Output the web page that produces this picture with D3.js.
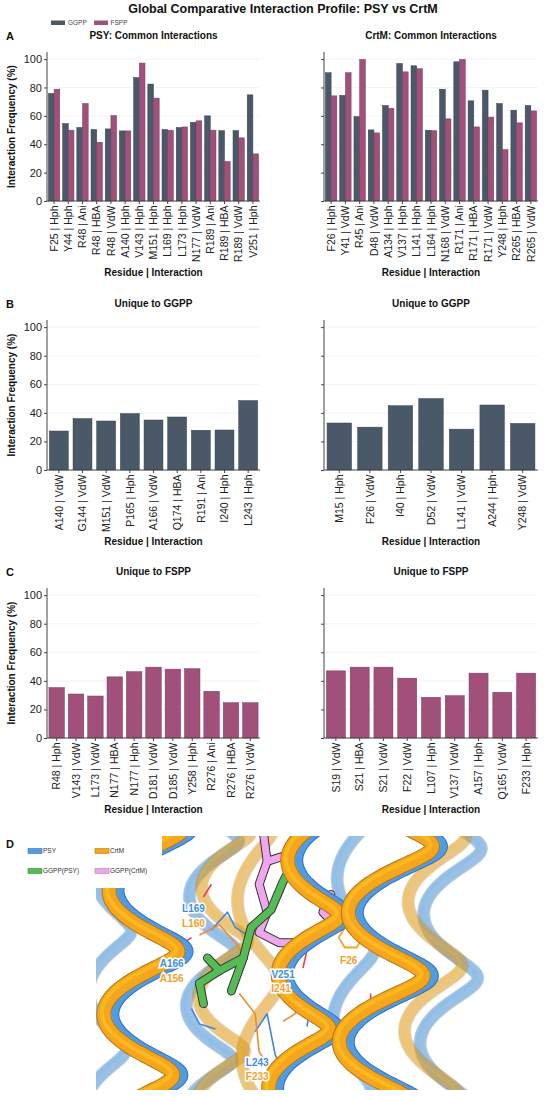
<!DOCTYPE html>
<html>
<head>
<meta charset="utf-8">
<script src="https://cdn.jsdelivr.net/npm/d3@7"></script>
<style>
  body { margin: 0; background: #fff; }
  svg { display: block; font-family: "Liberation Sans", Arial, sans-serif; }
  .axis path, .axis line { stroke: #444; }
  .axis text { fill: #222; font-size: 11px; }
  .xaxis text { font-size: 10.5px; }
</style>
</head>
<body>
<svg id="chart" width="550" height="1096"></svg>
<script>
// ---- data ----
const seriesNames = ["GGPP", "FSPP"];
const seriesColors = ["#4a5868", "#a1507a"];

const psyCommonLabels = ["F25 | Hph", "Y44 | Hph", "R48 | Ani", "R48 | HBA", "R48 | VdW", "A140 | Hph", "V143 | Hph",
  "M151 | Hph", "L169 | Hph", "L173 | Hph", "N177 | VdW", "R189 | Ani", "R189 | HBA", "R189 | VdW", "V251 | Hph"];
const psyCommonGGPP = [75.8, 54.6, 51.8, 50.4, 50.8, 49.4, 87.0, 82.4, 50.4, 51.8, 55.5, 60.0, 49.6, 49.6, 74.8];
const psyCommonFSPP = [78.8, 49.9, 68.7, 41.4, 60.2, 49.4, 97.2, 72.5, 49.9, 52.2, 56.5, 49.9, 27.8, 44.5, 33.2];

const crtmCommonLabels = ["F26 | Hph", "Y41 | VdW", "R45 | Ani", "D48 | VdW", "A134 | Hph", "V137 | Hph", "L141 | Hph",
  "L164 | Hph", "N168 | VdW", "R171 | Ani", "R171 | HBA", "R171 | VdW", "Y248 | Hph", "R265 | HBA", "R265 | VdW"];
const crtmCommonGGPP = [90.4, 74.4, 59.5, 50.1, 67.3, 96.9, 95.3, 49.9, 78.8, 98.1, 70.6, 78.1, 68.7, 64.0, 67.3];
const crtmCommonFSPP = [74.1, 90.4, 99.8, 48.0, 65.4, 91.0, 93.2, 49.6, 57.9, 99.8, 52.2, 59.1, 36.2, 55.1, 63.5];

const psyGgppOnlyLabels = ["A140 | VdW", "G144 | VdW", "M151 | VdW", "P165 | Hph", "A166 | VdW", "Q174 | HBA",
  "R191 | Ani", "I240 | Hph", "L243 | Hph"];
const psyGgppOnlyValues = [27.3, 36.0, 34.3, 39.5, 35.0, 37.1, 27.8, 28.0, 48.6];

const crtmGgppOnlyLabels = ["M15 | Hph", "F26 | VdW", "I40 | Hph", "D52 | VdW", "L141 | VdW", "A244 | Hph", "Y248 | VdW"];
const crtmGgppOnlyValues = [32.9, 30.0, 45.0, 50.0, 28.6, 45.5, 32.6];

const psyFsppOnlyLabels = ["R48 | Hph", "V143 | VdW", "L173 | VdW", "N177 | HBA", "N177 | Hph", "D181 | VdW",
  "D185 | VdW", "Y258 | Hph", "R276 | Ani", "R276 | HBA", "R276 | VdW"];
const psyFsppOnlyValues = [35.3, 30.8, 29.4, 42.8, 46.4, 49.6, 48.2, 48.5, 32.7, 24.7, 24.7];

const crtmFsppOnlyLabels = ["S19 | VdW", "S21 | HBA", "S21 | VdW", "F22 | VdW", "L107 | Hph", "V137 | VdW",
  "A157 | Hph", "Q165 | VdW", "F233 | Hph"];
const crtmFsppOnlyValues = [47.0, 49.6, 49.6, 41.9, 28.5, 29.6, 45.4, 32.0, 45.4];

const yTicks = [0, 20, 40, 60, 80, 100];

// ---- layout ----
const svg = d3.select("#chart");
const cols = [{ x0: 47, x1: 260 }, { x0: 324, x1: 538 }];
const rows = [
  { letter: "A", top: 52, bottom: 201 },
  { letter: "B", top: 320, bottom: 470 },
  { letter: "C", top: 588, bottom: 738 }
];

svg.append("text")
  .attr("x", 283).attr("y", 13)
  .attr("text-anchor", "middle")
  .attr("font-size", "12.5px").attr("font-weight", "bold").attr("fill", "#111")
  .text("Global Comparative Interaction Profile: PSY vs CrtM");

// legend for A
const legA = svg.append("g");
[[51, 68], [94, 110.5]].forEach((p, i) => {
  legA.append("rect").attr("x", p[0]).attr("y", 20.5).attr("width", 14).attr("height", 4.5)
    .attr("fill", seriesColors[i]);
  legA.append("text").attr("x", p[1]).attr("y", 25).attr("font-size", "6.5px").attr("fill", "#444")
    .text(seriesNames[i]);
});

function drawPanel(row, col, title, labels, series, showYLabels) {
  const g = svg.append("g");
  const y = d3.scaleLinear().domain([0, 105]).range([row.bottom, row.top]);
  const x = d3.scaleBand().domain(labels).range([col.x0, col.x1]).paddingInner(0.2).paddingOuter(0.1);
  const xs = d3.scaleBand().domain(d3.range(series.length)).range([0, x.bandwidth()]).padding(0);

  // faint grid
  g.selectAll(".grid").data(yTicks.slice(1)).enter().append("line")
    .attr("x1", col.x0).attr("x2", col.x1)
    .attr("y1", d => y(d)).attr("y2", d => y(d))
    .attr("stroke", "#f1f1f1").attr("stroke-width", 0.8);

  series.forEach((s, si) => {
    g.selectAll(".bar" + si).data(s.values).enter().append("rect")
      .attr("x", (d, i) => x(labels[i]) + xs(si))
      .attr("y", d => y(d))
      .attr("width", xs.bandwidth())
      .attr("height", d => y(0) - y(d))
      .attr("fill", s.color)
      .attr("stroke", d3.color(s.color).darker(0.8))
      .attr("stroke-width", 0.5);
  });

  const yAxis = d3.axisLeft(y).tickValues(yTicks).tickSize(3).tickPadding(2);
  if (!showYLabels) yAxis.tickFormat("");
  const ya = g.append("g").attr("class", "axis").attr("transform", `translate(${col.x0},0)`).call(yAxis);
  ya.select(".domain").attr("d", `M0,${row.top}V${row.bottom}`);

  const xAxis = d3.axisBottom(x).tickSize(3).tickPadding(3);
  const xa = g.append("g").attr("class", "axis xaxis").attr("transform", `translate(0,${row.bottom})`).call(xAxis);
  xa.select(".domain").attr("d", `M${col.x0},0H${col.x1}`);
  xa.selectAll("text")
    .attr("transform", "rotate(-90)")
    .attr("text-anchor", "end")
    .attr("x", -4.5).attr("y", 0).attr("dy", "0.35em");

  g.append("text")
    .attr("x", (col.x0 + col.x1) / 2).attr("y", row.top - 13)
    .attr("text-anchor", "middle").attr("font-size", "10px").attr("font-weight", "bold").attr("fill", "#111")
    .text(title);

  g.append("text")
    .attr("x", (col.x0 + col.x1) / 2).attr("y", row.bottom + 75)
    .attr("text-anchor", "middle").attr("font-size", "10px").attr("font-weight", "bold").attr("fill", "#111")
    .text("Residue | Interaction");

  if (showYLabels) {
    g.append("text")
      .attr("transform", `translate(15,${(row.top + row.bottom) / 2}) rotate(-90)`)
      .attr("text-anchor", "middle").attr("font-size", "10px").attr("font-weight", "bold").attr("fill", "#111")
      .text("Interaction Frequency (%)");
    g.append("text")
      .attr("x", 6).attr("y", row.top - 12)
      .attr("font-size", "11px").attr("font-weight", "bold").attr("fill", "#111")
      .text(row.letter);
  }
}

const pair = (a, b) => [{ values: a, color: seriesColors[0] }, { values: b, color: seriesColors[1] }];
drawPanel(rows[0], cols[0], "PSY: Common Interactions", psyCommonLabels, pair(psyCommonGGPP, psyCommonFSPP), true);
drawPanel(rows[0], cols[1], "CrtM: Common Interactions", crtmCommonLabels, pair(crtmCommonGGPP, crtmCommonFSPP), false);
drawPanel(rows[1], cols[0], "Unique to GGPP", psyGgppOnlyLabels, [{ values: psyGgppOnlyValues, color: seriesColors[0] }], true);
drawPanel(rows[1], cols[1], "Unique to GGPP", crtmGgppOnlyLabels, [{ values: crtmGgppOnlyValues, color: seriesColors[0] }], false);
drawPanel(rows[2], cols[0], "Unique to FSPP", psyFsppOnlyLabels, [{ values: psyFsppOnlyValues, color: seriesColors[1] }], true);
drawPanel(rows[2], cols[1], "Unique to FSPP", crtmFsppOnlyLabels, [{ values: crtmFsppOnlyValues, color: seriesColors[1] }], false);

// ---- panel D: structural overlay sketch ----
const structColors = { PSY: "#4f9be6", CrtM: "#f5a61c", GGPPpsy: "#55bb55", GGPPcrtm: "#f0a6ee" };
const sx = d3.scaleLinear().domain([0, 1]).range([96, 494]);
const sy = d3.scaleLinear().domain([0, 1]).range([836, 1090]);

svg.append("defs").append("clipPath").attr("id", "structClip")
  .append("rect").attr("x", sx(0)).attr("y", sy(0)).attr("width", sx(1) - sx(0)).attr("height", sy(1) - sy(0));
const D = svg.append("g").attr("clip-path", "url(#structClip)");

// helix axes in panel units
const backHelices = [
  { x0: 0.30, x1: 0.28, r: 0.06, turns: 2.6, phase: 0.4, c: "PSY" },
  { x0: 0.33, x1: 0.31, r: 0.06, turns: 2.6, phase: 0.9, c: "CrtM" },
  { x0: 0.90, x1: 0.88, r: 0.07, turns: 2.2, phase: 0.2, c: "PSY" },
  { x0: 0.86, x1: 0.84, r: 0.07, turns: 2.2, phase: 0.8, c: "CrtM" },
  { x0: 0.05, x1: 0.02, r: 0.05, turns: 2.4, phase: 2.0, c: "PSY" },
  { x0: 0.40, x1: 0.42, r: 0.05, turns: 1.8, phase: 1.5, c: "CrtM" },
  { x0: 0.66, x1: 0.64, r: 0.05, turns: 2.0, phase: 2.2, c: "PSY" }
];
const frontHelices = [
  { x0: 0.15, x1: 0.12, r: 0.09, turns: 2.3, phase: 1.2, c: "PSY" },
  { x0: 0.13, x1: 0.10, r: 0.09, turns: 2.3, phase: 1.2, c: "CrtM" },
  { x0: 0.58, x1: 0.52, r: 0.07, turns: 2.5, phase: 2.6, c: "PSY" },
  { x0: 0.56, x1: 0.50, r: 0.07, turns: 2.5, phase: 2.6, c: "CrtM" },
  { x0: 0.77, x1: 0.72, r: 0.10, turns: 2.2, phase: 0.3, c: "PSY" },
  { x0: 0.75, x1: 0.70, r: 0.10, turns: 2.2, phase: 0.3, c: "CrtM" }
];
const helixLine = d3.line().x(d => sx(d[0])).y(d => sy(d[1])).curve(d3.curveCatmullRom);
function helixPoints(h) {
  return d3.range(0, 1.0001, 1 / 90).map(t => {
    const a = 2 * Math.PI * h.turns * t + h.phase;
    return [h.x0 + (h.x1 - h.x0) * t + h.r * Math.sin(a), -0.06 + 1.12 * t + 0.03 * Math.cos(a)];
  });
}
function drawTube(pts, color, width, opacity) {
  D.append("path").attr("d", helixLine(pts)).attr("fill", "none")
    .attr("stroke", d3.color(color).darker(0.9)).attr("stroke-width", width + 2)
    .attr("stroke-linecap", "round").attr("stroke-linejoin", "round").attr("opacity", opacity);
  D.append("path").attr("d", helixLine(pts)).attr("fill", "none")
    .attr("stroke", color).attr("stroke-width", width)
    .attr("stroke-linecap", "round").attr("stroke-linejoin", "round").attr("opacity", opacity);
  D.append("path").attr("d", helixLine(pts)).attr("fill", "none")
    .attr("stroke", d3.color(color).brighter(0.5)).attr("stroke-width", width * 0.3)
    .attr("stroke-linecap", "round").attr("opacity", opacity * 0.6)
    .attr("transform", "translate(-2,-2)");
}
backHelices.forEach(h => drawTube(helixPoints(h), structColors[h.c], 11, 0.32));

// thin residue sticks
const sticks = [
  { c: "#3f86dc", pts: [[0.29, 0.37], [0.33, 0.30], [0.35, 0.36], [0.38, 0.39]] },
  { c: "#f08a30", pts: [[0.26, 0.39], [0.31, 0.35], [0.35, 0.42], [0.37, 0.47]] },
  { c: "#e8424a", pts: [[0.27, 0.24], [0.29, 0.19]] },
  { c: "#e8424a", pts: [[0.21, 0.43], [0.24, 0.40]] },
  { c: "#3f86dc", pts: [[0.40, 0.77], [0.43, 0.70], [0.45, 0.86], [0.47, 0.93]] },
  { c: "#f08a30", pts: [[0.36, 0.62], [0.40, 0.70], [0.41, 0.85], [0.44, 0.92]] },
  { c: "#f08a30", pts: [[0.47, 0.58], [0.51, 0.63], [0.50, 0.70], [0.47, 0.73]] },
  { c: "#3f86dc", pts: [[0.50, 0.60], [0.54, 0.66], [0.53, 0.75]] },
  { c: "#e8424a", pts: [[0.52, 0.52], [0.53, 0.45]] },
  { c: "#e8424a", pts: [[0.69, 0.62], [0.69, 0.70]] },
  { c: "#3f86dc", pts: [[0.24, 0.68], [0.26, 0.74], [0.30, 0.76]] }
];
const stickLine = d3.line().x(d => sx(d[0])).y(d => sy(d[1]));
sticks.forEach(s => D.append("path").attr("d", stickLine(s.pts)).attr("fill", "none")
  .attr("stroke", s.c).attr("stroke-width", 1.6).attr("stroke-linejoin", "round"));

// F26 phenyl ring
const ring = d3.range(7).map(k => [0.64 + 0.03 * Math.cos(k * Math.PI / 3), 0.40 + 0.045 * Math.sin(k * Math.PI / 3)]);
D.append("path").attr("d", stickLine(ring)).attr("fill", "none").attr("stroke", structColors.CrtM).attr("stroke-width", 1.8);

// ligands
const ggppPsy = [[0.52, -0.02], [0.49, 0.12], [0.47, 0.18], [0.44, 0.29], [0.39, 0.36], [0.37, 0.48], [0.31, 0.53], [0.26, 0.58]];
const ggppPsyBranches = [[[0.37, 0.48], [0.34, 0.61]], [[0.31, 0.53], [0.28, 0.48]], [[0.26, 0.58], [0.27, 0.66]]];
const ggppCrtm = [[0.42, -0.02], [0.43, 0.10], [0.41, 0.19], [0.43, 0.30], [0.41, 0.38], [0.46, 0.42], [0.51, 0.42]];
const ggppCrtmBranches = [[[0.59, 0.23], [0.57, 0.30], [0.60, 0.35]], [[0.43, 0.10], [0.47, 0.08]]];
function drawLigand(chain, branches, color) {
  [chain].concat(branches).forEach(p => {
    D.append("path").attr("d", stickLine(p)).attr("fill", "none").attr("stroke", "#333")
      .attr("stroke-width", 9).attr("stroke-linecap", "round").attr("stroke-linejoin", "round");
  });
  [chain].concat(branches).forEach(p => {
    D.append("path").attr("d", stickLine(p)).attr("fill", "none").attr("stroke", color)
      .attr("stroke-width", 7).attr("stroke-linecap", "round").attr("stroke-linejoin", "round");
  });
}
drawLigand(ggppCrtm, ggppCrtmBranches, structColors.GGPPcrtm);
drawLigand(ggppPsy, ggppPsyBranches, structColors.GGPPpsy);

frontHelices.forEach(h => drawTube(helixPoints(h), structColors[h.c], 13, 1));

// residue labels
const resLabels = [
  { t: "L169", x: 0.245, y: 0.285, c: "#3d8fe3" }, { t: "L160", x: 0.245, y: 0.345, c: "#f2a02a" },
  { t: "A166", x: 0.19, y: 0.50, c: "#3d8fe3" }, { t: "A156", x: 0.19, y: 0.56, c: "#f2a02a" },
  { t: "L243", x: 0.405, y: 0.89, c: "#3d8fe3" }, { t: "F233", x: 0.405, y: 0.945, c: "#f2a02a" },
  { t: "V251", x: 0.47, y: 0.545, c: "#3d8fe3" }, { t: "I241", x: 0.465, y: 0.60, c: "#f2a02a" },
  { t: "F26", x: 0.635, y: 0.49, c: "#f2a02a" }
];
svg.selectAll(".reslabel").data(resLabels).enter().append("text")
  .attr("x", d => sx(d.x)).attr("y", d => sy(d.y)).attr("dy", "0.35em")
  .attr("text-anchor", "middle").attr("font-size", "10px").attr("font-weight", "bold")
  .attr("fill", d => d.c).attr("stroke", "#fff").attr("stroke-width", 3).attr("paint-order", "stroke")
  .text(d => d.t);

// legend for D
svg.append("rect").attr("x", 0).attr("y", 836).attr("width", 162).attr("height", 52).attr("fill", "#fff");
svg.append("text").attr("x", 6).attr("y", 848).attr("font-size", "11px").attr("font-weight", "bold").attr("fill", "#111").text("D");
const legD = [
  { t: "PSY", c: structColors.PSY, x: 28, y: 851 }, { t: "CrtM", c: structColors.CrtM, x: 95, y: 851 },
  { t: "GGPP(PSY)", c: structColors.GGPPpsy, x: 28, y: 871 }, { t: "GGPP(CrtM)", c: structColors.GGPPcrtm, x: 95, y: 871 }
];
legD.forEach(d => {
  svg.append("rect").attr("x", d.x).attr("y", d.y - 2.5).attr("width", 14).attr("height", 5)
    .attr("fill", d.c).attr("stroke", d3.color(d.c).darker(0.8)).attr("stroke-width", 0.6);
  svg.append("text").attr("x", d.x + 15).attr("y", d.y).attr("dy", "0.35em")
    .attr("font-size", "6.5px").attr("fill", "#333").text(d.t);
});
</script>
</body>
</html>
